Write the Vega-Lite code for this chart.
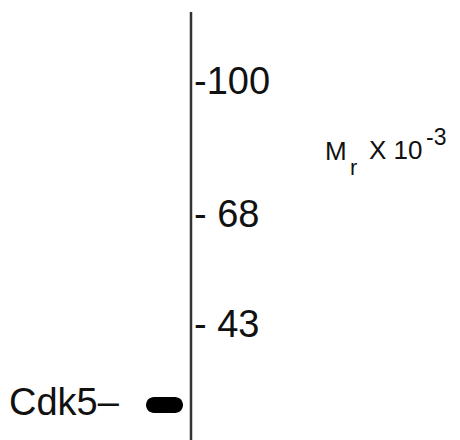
{
  "$schema": "https://vega.github.io/schema/vega-lite/v6.json",
  "width": 460,
  "height": 440,
  "autosize": {"type": "none"},
  "padding": 0,
  "background": "white",
  "config": {"view": {"stroke": null}},
  "datasets": {
    "lane": [{"x": 191, "y": 12, "y2": 440}],
    "band": [{"x": 146, "x2": 183, "y": 397, "y2": 413}],
    "big": [
      {"label": "-100", "x": 194, "y": 94},
      {"label": "- 68", "x": 194, "y": 227},
      {"label": "- 43", "x": 194, "y": 337},
      {"label": "Cdk5–", "x": 9, "y": 415}
    ],
    "unit": [
      {"label": "M", "x": 325, "y": 160},
      {"label": "X 10", "x": 369, "y": 159}
    ],
    "sub": [
      {"label": "r", "x": 350, "y": 175}
    ],
    "sup": [
      {"label": "-3", "x": 426, "y": 145}
    ]
  },
  "layer": [
    {
      "data": {"name": "lane"},
      "mark": {"type": "rule", "color": "#333333", "strokeWidth": 2.5},
      "encoding": {
        "x": {"field": "x", "type": "quantitative", "scale": {"domain": [0, 460], "nice": false}, "axis": null},
        "y": {"field": "y", "type": "quantitative", "scale": {"domain": [0, 440], "nice": false, "reverse": true}, "axis": null},
        "y2": {"field": "y2"}
      }
    },
    {
      "data": {"name": "band"},
      "mark": {"type": "rect", "color": "#000000", "cornerRadius": 8},
      "encoding": {
        "x": {"field": "x", "type": "quantitative"},
        "x2": {"field": "x2"},
        "y": {"field": "y", "type": "quantitative"},
        "y2": {"field": "y2"}
      }
    },
    {
      "data": {"name": "big"},
      "mark": {"type": "text", "font": "Liberation Sans", "fontSize": 38, "align": "left", "baseline": "alphabetic", "color": "#111111"},
      "encoding": {
        "x": {"field": "x", "type": "quantitative"},
        "y": {"field": "y", "type": "quantitative"},
        "text": {"field": "label"}
      }
    },
    {
      "data": {"name": "unit"},
      "mark": {"type": "text", "font": "Liberation Sans", "fontSize": 26, "align": "left", "baseline": "alphabetic", "color": "#111111"},
      "encoding": {
        "x": {"field": "x", "type": "quantitative"},
        "y": {"field": "y", "type": "quantitative"},
        "text": {"field": "label"}
      }
    },
    {
      "data": {"name": "sub"},
      "mark": {"type": "text", "font": "Liberation Sans", "fontSize": 22, "align": "left", "baseline": "alphabetic", "color": "#111111"},
      "encoding": {
        "x": {"field": "x", "type": "quantitative"},
        "y": {"field": "y", "type": "quantitative"},
        "text": {"field": "label"}
      }
    },
    {
      "data": {"name": "sup"},
      "mark": {"type": "text", "font": "Liberation Sans", "fontSize": 23, "align": "left", "baseline": "alphabetic", "color": "#111111"},
      "encoding": {
        "x": {"field": "x", "type": "quantitative"},
        "y": {"field": "y", "type": "quantitative"},
        "text": {"field": "label"}
      }
    }
  ]
}
